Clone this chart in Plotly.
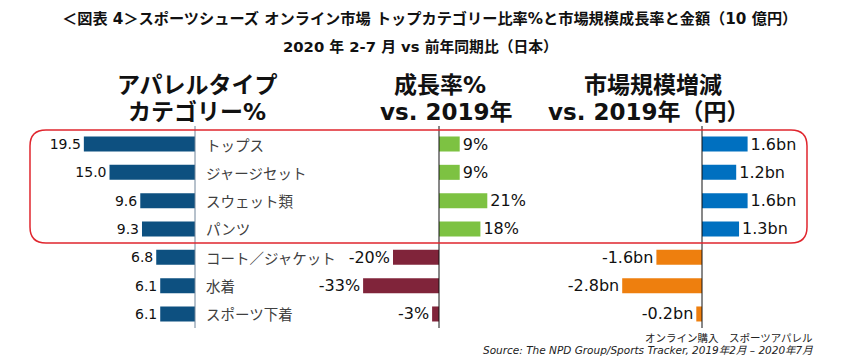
import plotly.graph_objects as go

W, H = 855, 363
OFF = 8  # page body margin

categories = ["トップス", "ジャージセット", "スウェット類", "パンツ",
              "コート／ジャケット", "水着", "スポーツ下着"]
share_pct = [19.5, 15.0, 9.6, 9.3, 6.8, 6.1, 6.1]
growth_pct = [9, 9, 21, 18, -20, -33, -3]
market_bn = [1.6, 1.2, 1.6, 1.3, -1.6, -2.8, -0.2]

share_labels = [f"{v:.1f}" for v in share_pct]
growth_labels = [f"{v}%" for v in growth_pct]
market_labels = [f"{v:.1f}bn" for v in market_bn]

title1 = "＜図表 4＞スポーツシューズ オンライン市場 トップカテゴリー比率%と市場規模成長率と金額（10 億円）"
title2 = "2020 年 2-7 月 vs 前年同期比（日本）"
headers = [("アパレルタイプ", "カテゴリー%"), ("成長率%", "vs. 2019年"), ("市場規模増減", "vs. 2019年（円）")]
footer1 = "オンライン購入　スポーツアパレル"
footer2 = "Source: The NPD Group/Sports Tracker, 2019年2月 – 2020年7月"

FONT = "DejaVu Sans, Noto Sans CJK JP, sans-serif"
CJK = "Noto Sans CJK JP, sans-serif"

C_LEFT = "#0D5080"
C_GREEN = "#7DC242"
C_MAROON = "#80243A"
C_BLUE = "#0070C0"
C_ORANGE = "#EE7F0E"

def px(x):
    return (x - OFF) / W

def py(y):
    return 1 - (y - OFF) / H

fig = go.Figure()

BW = 0.53
fig.add_trace(go.Bar(
    y=categories, x=share_pct, orientation="h", xaxis="x", yaxis="y",
    marker=dict(color=C_LEFT, line=dict(width=0)), width=BW,
    text=share_labels, textposition="outside", constraintext="none",
    textfont=dict(size=14, color="#111111", family=FONT), cliponaxis=False,
    showlegend=False, hoverinfo="skip"))

fig.add_trace(go.Bar(
    y=categories, x=growth_pct, orientation="h", xaxis="x2", yaxis="y",
    marker=dict(color=[C_GREEN if v >= 0 else C_MAROON for v in growth_pct], line=dict(width=0)),
    width=BW, text=growth_labels, textposition="outside", constraintext="none",
    textfont=dict(size=16, color="#111111", family=FONT), cliponaxis=False,
    showlegend=False, hoverinfo="skip"))

fig.add_trace(go.Bar(
    y=categories, x=market_bn, orientation="h", xaxis="x3", yaxis="y",
    marker=dict(color=[C_BLUE if v >= 0 else C_ORANGE for v in market_bn], line=dict(width=0)),
    width=BW, text=market_labels, textposition="outside", constraintext="none",
    textfont=dict(size=16, color="#111111", family=FONT), cliponaxis=False,
    showlegend=False, hoverinfo="skip"))

# axes: zero positions (target px) and scales (px per unit)
z1, s1 = 195, 5.7
z2, s2 = 439, 2.3
z3, s3 = 702, 28.5
d1 = (OFF, 200)
d2 = (300, 600)
d3 = (600, W + OFF)

def rng(d, z, s):
    return [(d[0] - z) / s, (d[1] - z) / s]

r1 = [(z1 - d1[0]) / s1, (z1 - d1[1]) / s1]  # reversed

# rows: first row centre at 144 px, spacing 28.33 px
y_first, y_step = 144, 28.33
y_top_val = -(y_first - OFF) / y_step
y_bot_val = (OFF + H - y_first) / y_step

common = dict(showgrid=False, zeroline=False, showticklabels=False, showline=False, ticks="")
fig.update_layout(
    width=W, height=H, margin=dict(l=0, r=0, t=0, b=0),
    paper_bgcolor="white", plot_bgcolor="rgba(0,0,0,0)",
    font=dict(family=FONT),
    barmode="overlay",
    xaxis=dict(domain=[px(d1[0]), px(d1[1])], range=r1, anchor="y", **common),
    xaxis2=dict(domain=[px(d2[0]), px(d2[1])], range=rng(d2, z2, s2), anchor="y", **common),
    xaxis3=dict(domain=[px(d3[0]), px(d3[1])], range=rng(d3, z3, s3), anchor="y", **common),
    yaxis=dict(domain=[0, 1], type="category", categoryarray=categories,
               range=[y_bot_val, y_top_val], **common),
)

# zero lines
for xr, col in [("x", "#6F8499"), ("x2", "#111111"), ("x3", "#111111")]:
    fig.add_shape(type="line", xref=xr, yref="paper", x0=0, x1=0,
                  y0=py(328), y1=py(126), line=dict(color=col, width=1), layer="above")

# red rounded box
x0, x1, y0, y1 = 30, 807, 130, 243
r = 16
def P(x, y):
    return f"{px(x):.5f},{py(y):.5f}"
path = (f"M {P(x0 + r, y0)} L {P(x1 - r, y0)} Q {P(x1, y0)} {P(x1, y0 + r)} "
        f"L {P(x1, y1 - r)} Q {P(x1, y1)} {P(x1 - r, y1)} L {P(x0 + r, y1)} "
        f"Q {P(x0, y1)} {P(x0, y1 - r)} L {P(x0, y0 + r)} Q {P(x0, y0)} {P(x0 + r, y0)} Z")
fig.add_shape(type="path", xref="paper", yref="paper", path=path,
              line=dict(color="#E0262E", width=1.5), layer="above")

# category labels
for c in categories:
    fig.add_annotation(x=px(204), y=c, xref="paper", yref="y", text=c, showarrow=False,
                       xanchor="left", yanchor="middle",
                       font=dict(size=14.5, color="#404040", family=CJK))

# titles
fig.add_annotation(x=px(429), y=py(19), xref="paper", yref="paper", text=f"<b>{title1}</b>",
                   showarrow=False, xanchor="center", yanchor="middle",
                   font=dict(size=15.2, color="#111111", family=FONT))
fig.add_annotation(x=px(420), y=py(47), xref="paper", yref="paper", text=f"<b>{title2}</b>",
                   showarrow=False, xanchor="center", yanchor="middle",
                   font=dict(size=14.8, color="#111111", family=FONT))

# panel headers
hx = [(197, 197), (440, 446), (653, 648)]
for (l1, l2), (xa, xb) in zip(headers, hx):
    fig.add_annotation(x=px(xa), y=py(85), xref="paper", yref="paper", text=f"<b>{l1}</b>",
                       showarrow=False, xanchor="center", yanchor="middle",
                       font=dict(size=23, color="#111111", family=FONT))
    fig.add_annotation(x=px(xb), y=py(112), xref="paper", yref="paper", text=f"<b>{l2}</b>",
                       showarrow=False, xanchor="center", yanchor="middle",
                       font=dict(size=23, color="#111111", family=FONT))

# footer
fig.add_annotation(x=px(815), y=py(337), xref="paper", yref="paper", text=footer1,
                   showarrow=False, xanchor="right", yanchor="middle",
                   font=dict(size=10.5, color="#222222", family=CJK))
fig.add_annotation(x=px(815), y=py(350), xref="paper", yref="paper", text=footer2,
                   showarrow=False, xanchor="right", yanchor="middle",
                   font=dict(size=10.5, color="#222222", family=FONT, style="italic"))

fig.write_html("out.html")
